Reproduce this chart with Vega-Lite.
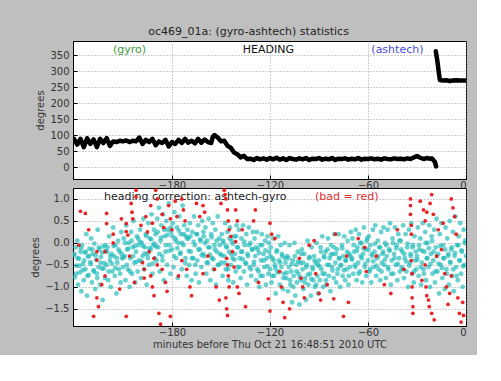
{
"$schema": "https://vega.github.io/schema/vega-lite/v6.json",
"background": "#bfbfbf",
"padding": {"left": 30, "top": 25, "right": 10, "bottom": 5},
"title": {"text": "oc469_01a: (gyro-ashtech) statistics", "font": "DejaVu Sans", "fontSize": 11, "fontWeight": "normal", "color": "#222", "offset": 4, "anchor": "middle"},
"config": {
  "font": "DejaVu Sans",
  "view": {"fill": "white", "stroke": "#000", "strokeWidth": 1},
  "axis": {"labelFont": "DejaVu Sans", "labelFontSize": 10, "labelColor": "#333", "labelOverlap": false, "titleFont": "DejaVu Sans", "titleFontSize": 10, "titleFontWeight": "normal", "titleColor": "#333", "domainColor": "#000", "tickColor": "#000", "tickSize": -4, "labelPadding": 8, "grid": true, "gridColor": "#888", "gridDash": [1, 2], "gridOpacity": 0.8}
},
"resolve": {"scale": {"color": "independent"}},
"datasets": {
"heading": [
{"seg":1,"t":-240,"h":88},{"seg":1,"t":-238,"h":70},{"seg":1,"t":-236,"h":88},{"seg":1,"t":-234,"h":62},{"seg":1,"t":-232,"h":90},{"seg":1,"t":-230,"h":72},{"seg":1,"t":-228,"h":86},{"seg":1,"t":-226,"h":62},{"seg":1,"t":-224,"h":88},{"seg":1,"t":-222,"h":75},{"seg":1,"t":-220,"h":90},{"seg":1,"t":-218,"h":66},{"seg":1,"t":-216,"h":80},{"seg":1,"t":-214,"h":78},{"seg":1,"t":-212,"h":82},{"seg":1,"t":-210,"h":80},{"seg":1,"t":-208,"h":83},{"seg":1,"t":-206,"h":78},{"seg":1,"t":-204,"h":82},{"seg":1,"t":-202,"h":80},{"seg":1,"t":-200,"h":92},{"seg":1,"t":-198,"h":72},{"seg":1,"t":-196,"h":85},{"seg":1,"t":-194,"h":78},{"seg":1,"t":-192,"h":88},{"seg":1,"t":-190,"h":68},{"seg":1,"t":-188,"h":80},{"seg":1,"t":-186,"h":75},{"seg":1,"t":-184,"h":85},{"seg":1,"t":-182,"h":64},{"seg":1,"t":-180,"h":78},{"seg":1,"t":-178,"h":72},{"seg":1,"t":-176,"h":85},{"seg":1,"t":-174,"h":75},{"seg":1,"t":-172,"h":88},{"seg":1,"t":-170,"h":76},{"seg":1,"t":-168,"h":82},{"seg":1,"t":-166,"h":74},{"seg":1,"t":-164,"h":88},{"seg":1,"t":-162,"h":76},{"seg":1,"t":-160,"h":86},{"seg":1,"t":-158,"h":78},{"seg":1,"t":-156,"h":75},{"seg":1,"t":-155,"h":95},{"seg":1,"t":-154,"h":100},{"seg":1,"t":-152,"h":92},{"seg":1,"t":-150,"h":80},{"seg":1,"t":-148,"h":82},{"seg":1,"t":-146,"h":66},{"seg":1,"t":-144,"h":60},{"seg":1,"t":-142,"h":45},{"seg":1,"t":-140,"h":40},{"seg":1,"t":-138,"h":30},{"seg":1,"t":-136,"h":35},{"seg":1,"t":-134,"h":25},{"seg":1,"t":-132,"h":26},{"seg":1,"t":-130,"h":22},{"seg":1,"t":-128,"h":28},{"seg":1,"t":-126,"h":24},{"seg":1,"t":-124,"h":27},{"seg":1,"t":-122,"h":23},{"seg":1,"t":-120,"h":28},{"seg":1,"t":-118,"h":24},{"seg":1,"t":-116,"h":29},{"seg":1,"t":-114,"h":23},{"seg":1,"t":-112,"h":27},{"seg":1,"t":-110,"h":22},{"seg":1,"t":-108,"h":28},{"seg":1,"t":-106,"h":25},{"seg":1,"t":-104,"h":23},{"seg":1,"t":-102,"h":27},{"seg":1,"t":-100,"h":24},{"seg":1,"t":-98,"h":28},{"seg":1,"t":-96,"h":22},{"seg":1,"t":-94,"h":26},{"seg":1,"t":-92,"h":25},{"seg":1,"t":-90,"h":28},{"seg":1,"t":-88,"h":23},{"seg":1,"t":-86,"h":26},{"seg":1,"t":-84,"h":24},{"seg":1,"t":-82,"h":28},{"seg":1,"t":-80,"h":22},{"seg":1,"t":-78,"h":26},{"seg":1,"t":-76,"h":25},{"seg":1,"t":-74,"h":27},{"seg":1,"t":-72,"h":23},{"seg":1,"t":-70,"h":26},{"seg":1,"t":-68,"h":24},{"seg":1,"t":-66,"h":28},{"seg":1,"t":-64,"h":23},{"seg":1,"t":-62,"h":26},{"seg":1,"t":-60,"h":25},{"seg":1,"t":-58,"h":27},{"seg":1,"t":-56,"h":24},{"seg":1,"t":-54,"h":26},{"seg":1,"t":-52,"h":23},{"seg":1,"t":-50,"h":27},{"seg":1,"t":-48,"h":25},{"seg":1,"t":-46,"h":24},{"seg":1,"t":-44,"h":27},{"seg":1,"t":-42,"h":25},{"seg":1,"t":-40,"h":26},{"seg":1,"t":-38,"h":24},{"seg":1,"t":-36,"h":27},{"seg":1,"t":-34,"h":25},{"seg":1,"t":-32,"h":30},{"seg":1,"t":-30,"h":34},{"seg":1,"t":-28,"h":29},{"seg":1,"t":-26,"h":25},{"seg":1,"t":-24,"h":28},{"seg":1,"t":-22,"h":26},{"seg":1,"t":-21,"h":27},{"seg":1,"t":-20,"h":22},{"seg":1,"t":-19,"h":15},{"seg":1,"t":-18.3,"h":2},
{"seg":2,"t":-18.5,"h":362},{"seg":2,"t":-17.5,"h":330},{"seg":2,"t":-16.5,"h":290},{"seg":2,"t":-16,"h":272},{"seg":2,"t":-14,"h":270},{"seg":2,"t":-12,"h":271},{"seg":2,"t":-10,"h":269},{"seg":2,"t":-8,"h":270},{"seg":2,"t":-6,"h":271},{"seg":2,"t":-4,"h":270},{"seg":2,"t":-2,"h":270},{"seg":2,"t":0,"h":270}
],
"toplabels": [
{"label":"(gyro)","t":-206,"h":366},{"label":"HEADING","t":-121,"h":366},{"label":"(ashtech)","t":-42,"h":366}
],
"botlabels": [
{"label":"heading correction: ashtech-gyro","t":-221.6,"y":1.05},{"label":"(bad = red)","t":-92.4,"y":1.05}
],
"good": [
{"t":-240,"y":-0.28},{"t":-239.5,"y":-0.78},{"t":-239,"y":-0.1},{"t":-238.5,"y":-0.52},{"t":-238,"y":0.05},{"t":-237.5,"y":-0.95},{"t":-237,"y":-0.36},{"t":-236.5,"y":-0.67},{"t":-236,"y":-0.2},{"t":-235.5,"y":-1.1},{"t":-235,"y":-0.05},{"t":-234.5,"y":-0.48},{"t":-234,"y":-0.85},{"t":-233.5,"y":-0.22},{"t":-233,"y":-0.6},{"t":-232.5,"y":0.2},{"t":-232,"y":-1.2},{"t":-231.5,"y":-0.31},{"t":-231,"y":-0.73},{"t":-230.5,"y":-0.13},
{"t":-230,"y":-0.44},{"t":-229.5,"y":0.1},{"t":-229,"y":-0.9},{"t":-228.5,"y":-0.25},{"t":-228,"y":-0.62},{"t":-227.5,"y":-0.02},{"t":-227,"y":-1.05},{"t":-226.5,"y":-0.38},{"t":-226,"y":-0.7},{"t":-225.5,"y":0.3},{"t":-225,"y":-0.55},{"t":-224.5,"y":-0.15},{"t":-224,"y":-0.95},{"t":-223.5,"y":-0.32},{"t":-223,"y":-0.58},{"t":-222.5,"y":-1.3},{"t":-222,"y":-0.08},{"t":-221.5,"y":-0.46},{"t":-221,"y":-0.8},{"t":-220.5,"y":-0.18},
{"t":-220,"y":-0.5},{"t":-219.5,"y":-0.1},{"t":-219,"y":-0.85},{"t":-218.5,"y":0.15},{"t":-218,"y":-0.4},{"t":-217.5,"y":-1.0},{"t":-217,"y":-0.25},{"t":-216.5,"y":-0.65},{"t":-216,"y":0.35},{"t":-215.5,"y":-0.3},{"t":-215,"y":-0.75},{"t":-214.5,"y":-0.05},{"t":-214,"y":-1.15},{"t":-213.5,"y":-0.45},{"t":-213,"y":0.05},{"t":-212.5,"y":-0.6},{"t":-212,"y":-0.2},{"t":-211.5,"y":-0.9},{"t":-211,"y":0.25},{"t":-210.5,"y":-0.35},
{"t":-210,"y":-0.55},{"t":-209.5,"y":0.1},{"t":-209,"y":-0.3},{"t":-208.5,"y":-0.85},{"t":-208,"y":0.4},{"t":-207.5,"y":-0.15},{"t":-207,"y":-0.6},{"t":-206.5,"y":0.0},{"t":-206,"y":-1.0},{"t":-205.5,"y":-0.35},{"t":-205,"y":0.25},{"t":-204.5,"y":-0.7},{"t":-204,"y":-0.1},{"t":-203.5,"y":0.5},{"t":-203,"y":-0.45},{"t":-202.5,"y":-0.9},{"t":-202,"y":-0.2},{"t":-201.5,"y":0.15},{"t":-201,"y":-0.65},{"t":-200.5,"y":-0.05},
{"t":-200,"y":-0.4},{"t":-199.5,"y":0.3},{"t":-199,"y":-0.8},{"t":-198.5,"y":0.0},{"t":-198,"y":-0.3},{"t":-197.5,"y":0.55},{"t":-197,"y":-0.6},{"t":-196.5,"y":-0.1},{"t":-196,"y":0.2},{"t":-195.5,"y":-0.95},{"t":-195,"y":-0.25},{"t":-194.5,"y":0.45},{"t":-194,"y":-0.5},{"t":-193.5,"y":0.1},{"t":-193,"y":-0.15},{"t":-192.5,"y":0.65},{"t":-192,"y":-0.7},{"t":-191.5,"y":-0.05},{"t":-191,"y":0.3},{"t":-190.5,"y":-0.35},
{"t":-190,"y":0.2},{"t":-189.5,"y":-0.4},{"t":-189,"y":0.55},{"t":-188.5,"y":-0.1},{"t":-188,"y":0.8},{"t":-187.5,"y":-0.65},{"t":-187,"y":0.05},{"t":-186.5,"y":0.4},{"t":-186,"y":-0.3},{"t":-185.5,"y":0.65},{"t":-185,"y":-0.85},{"t":-184.5,"y":0.15},{"t":-184,"y":-0.2},{"t":-183.5,"y":0.5},{"t":-183,"y":-0.5},{"t":-182.5,"y":0.3},{"t":-182,"y":0.9},{"t":-181.5,"y":-0.05},{"t":-181,"y":-0.7},{"t":-180.5,"y":0.25},
{"t":-180,"y":-0.15},{"t":-179.5,"y":0.45},{"t":-179,"y":-0.55},{"t":-178.5,"y":0.7},{"t":-178,"y":0.1},{"t":-177.5,"y":-0.35},{"t":-177,"y":0.35},{"t":-176.5,"y":-0.8},{"t":-176,"y":0.0},{"t":-175.5,"y":0.6},{"t":-175,"y":-0.25},{"t":-174.5,"y":0.2},{"t":-174,"y":-0.6},{"t":-173.5,"y":0.85},{"t":-173,"y":-0.05},{"t":-172.5,"y":0.4},{"t":-172,"y":-0.45},{"t":-171.5,"y":0.15},{"t":-171,"y":-0.75},{"t":-170.5,"y":0.3},
{"t":-170,"y":0.1},{"t":-169.5,"y":-0.5},{"t":-169,"y":0.45},{"t":-168.5,"y":-0.2},{"t":-168,"y":-0.85},{"t":-167.5,"y":0.25},{"t":-167,"y":-0.35},{"t":-166.5,"y":0.6},{"t":-166,"y":-0.05},{"t":-165.5,"y":-0.7},{"t":-165,"y":0.2},{"t":-164.5,"y":-0.4},{"t":-164,"y":0.4},{"t":-163.5,"y":-0.9},{"t":-163,"y":-0.15},{"t":-162.5,"y":0.05},{"t":-162,"y":-0.55},{"t":-161.5,"y":0.5},{"t":-161,"y":-0.25},{"t":-160.5,"y":0.15},
{"t":-160,"y":-0.3},{"t":-159.5,"y":0.35},{"t":-159,"y":-0.7},{"t":-158.5,"y":0.05},{"t":-158,"y":-0.45},{"t":-157.5,"y":0.55},{"t":-157,"y":-0.1},{"t":-156.5,"y":-0.85},{"t":-156,"y":0.2},{"t":-155.5,"y":-0.35},{"t":-155,"y":0.45},{"t":-154.5,"y":-0.6},{"t":-154,"y":-0.05},{"t":-153.5,"y":0.3},{"t":-153,"y":-0.95},{"t":-152.5,"y":-0.2},{"t":-152,"y":0.6},{"t":-151.5,"y":-0.5},{"t":-151,"y":0.1},{"t":-150.5,"y":-0.25},
{"t":-150,"y":-0.45},{"t":-149.5,"y":0.2},{"t":-149,"y":-0.75},{"t":-148.5,"y":0.0},{"t":-148,"y":-0.3},{"t":-147.5,"y":0.45},{"t":-147,"y":-0.6},{"t":-146.5,"y":-0.1},{"t":-146,"y":0.25},{"t":-145.5,"y":-0.85},{"t":-145,"y":-0.2},{"t":-144.5,"y":0.35},{"t":-144,"y":-0.5},{"t":-143.5,"y":0.05},{"t":-143,"y":-0.35},{"t":-142.5,"y":-0.9},{"t":-142,"y":0.15},{"t":-141.5,"y":-0.25},{"t":-141,"y":-0.65},{"t":-140.5,"y":0.4},
{"t":-140,"y":-0.1},{"t":-139.5,"y":-0.55},{"t":-139,"y":0.3},{"t":-138.5,"y":-0.35},{"t":-138,"y":-0.8},{"t":-137.5,"y":0.1},{"t":-137,"y":-0.2},{"t":-136.5,"y":0.4},{"t":-136,"y":-0.65},{"t":-135.5,"y":-0.05},{"t":-135,"y":-0.45},{"t":-134.5,"y":0.2},{"t":-134,"y":-0.95},{"t":-133.5,"y":-0.3},{"t":-133,"y":0.35},{"t":-132.5,"y":-0.55},{"t":-132,"y":0.0},{"t":-131.5,"y":-0.75},{"t":-131,"y":-0.15},{"t":-130.5,"y":0.25},
{"t":-130,"y":-0.5},{"t":-129.5,"y":0.1},{"t":-129,"y":-0.3},{"t":-128.5,"y":-0.85},{"t":-128,"y":0.25},{"t":-127.5,"y":-0.15},{"t":-127,"y":-0.65},{"t":-126.5,"y":-1.0},{"t":-126,"y":-0.05},{"t":-125.5,"y":-0.4},{"t":-125,"y":0.2},{"t":-124.5,"y":-0.75},{"t":-124,"y":-0.25},{"t":-123.5,"y":-0.55},{"t":-123,"y":0.05},{"t":-122.5,"y":-0.95},{"t":-122,"y":-0.35},{"t":-121.5,"y":0.15},{"t":-121,"y":-0.7},{"t":-120.5,"y":-0.2},
{"t":-120,"y":-0.6},{"t":-119.5,"y":-0.1},{"t":-119,"y":-0.9},{"t":-118.5,"y":-0.35},{"t":-118,"y":0.1},{"t":-117.5,"y":-0.75},{"t":-117,"y":-0.5},{"t":-116.5,"y":-1.15},{"t":-116,"y":-0.2},{"t":-115.5,"y":-0.65},{"t":-115,"y":0.15},{"t":-114.5,"y":-0.4},{"t":-114,"y":-0.95},{"t":-113.5,"y":-0.05},{"t":-113,"y":-0.55},{"t":-112.5,"y":-0.3},{"t":-112,"y":-1.05},{"t":-111.5,"y":-0.7},{"t":-111,"y":0.0},{"t":-110.5,"y":-0.45},
{"t":-110,"y":-0.8},{"t":-109.5,"y":-0.3},{"t":-109,"y":-1.1},{"t":-108.5,"y":-0.55},{"t":-108,"y":-0.05},{"t":-107.5,"y":-0.95},{"t":-107,"y":-0.65},{"t":-106.5,"y":-1.35},{"t":-106,"y":-0.4},{"t":-105.5,"y":-0.75},{"t":-105,"y":0.0},{"t":-104.5,"y":-1.2},{"t":-104,"y":-0.5},{"t":-103.5,"y":-0.9},{"t":-103,"y":-0.2},{"t":-102.5,"y":-0.7},{"t":-102,"y":-1.4},{"t":-101.5,"y":-0.45},{"t":-101,"y":-0.85},{"t":-100.5,"y":-0.15},
{"t":-100,"y":-0.6},{"t":-99.5,"y":-1.05},{"t":-99,"y":-0.25},{"t":-98.5,"y":-0.8},{"t":-98,"y":-1.3},{"t":-97.5,"y":-0.5},{"t":-97,"y":0.05},{"t":-96.5,"y":-0.95},{"t":-96,"y":-0.35},{"t":-95.5,"y":-0.7},{"t":-95,"y":-1.2},{"t":-94.5,"y":-0.1},{"t":-94,"y":-0.55},{"t":-93.5,"y":-0.85},{"t":-93,"y":-0.3},{"t":-92.5,"y":-1.0},{"t":-92,"y":-0.45},{"t":-91.5,"y":0.0},{"t":-91,"y":-0.75},{"t":-90.5,"y":-1.15},
{"t":-90,"y":-0.4},{"t":-89.5,"y":-0.85},{"t":-89,"y":-0.1},{"t":-88.5,"y":-0.6},{"t":-88,"y":0.15},{"t":-87.5,"y":-1.0},{"t":-87,"y":-0.3},{"t":-86.5,"y":-0.7},{"t":-86,"y":-0.2},{"t":-85.5,"y":-0.95},{"t":-85,"y":-0.5},{"t":-84.5,"y":0.1},{"t":-84,"y":-0.75},{"t":-83.5,"y":-0.35},{"t":-83,"y":-1.1},{"t":-82.5,"y":-0.05},{"t":-82,"y":-0.55},{"t":-81.5,"y":-0.25},{"t":-81,"y":-0.8},{"t":-80.5,"y":0.2},
{"t":-80,"y":-0.45},{"t":-79.5,"y":-0.9},{"t":-79,"y":-0.15},{"t":-78.5,"y":-0.6},{"t":-78,"y":0.2},{"t":-77.5,"y":-0.35},{"t":-77,"y":-1.0},{"t":-76.5,"y":-0.5},{"t":-76,"y":-0.05},{"t":-75.5,"y":-0.75},{"t":-75,"y":-0.3},{"t":-74.5,"y":0.15},{"t":-74,"y":-0.85},{"t":-73.5,"y":-0.4},{"t":-73,"y":-0.6},{"t":-72.5,"y":0.05},{"t":-72,"y":-0.95},{"t":-71.5,"y":-0.25},{"t":-71,"y":-0.55},{"t":-70.5,"y":0.25},
{"t":-70,"y":-0.35},{"t":-69.5,"y":0.1},{"t":-69,"y":-0.7},{"t":-68.5,"y":-0.2},{"t":-68,"y":-0.5},{"t":-67.5,"y":0.3},{"t":-67,"y":-0.85},{"t":-66.5,"y":-0.1},{"t":-66,"y":-0.45},{"t":-65.5,"y":0.2},{"t":-65,"y":-0.65},{"t":-64.5,"y":-0.3},{"t":-64,"y":0.0},{"t":-63.5,"y":-0.9},{"t":-63,"y":-0.25},{"t":-62.5,"y":0.35},{"t":-62,"y":-0.55},{"t":-61.5,"y":-0.15},{"t":-61,"y":-0.75},{"t":-60.5,"y":0.1},
{"t":-60,"y":-0.4},{"t":-59.5,"y":0.15},{"t":-59,"y":-0.65},{"t":-58.5,"y":-0.05},{"t":-58,"y":-0.9},{"t":-57.5,"y":-0.3},{"t":-57,"y":0.3},{"t":-56.5,"y":-0.55},{"t":-56,"y":-0.2},{"t":-55.5,"y":0.4},{"t":-55,"y":-0.75},{"t":-54.5,"y":-0.35},{"t":-54,"y":0.05},{"t":-53.5,"y":-0.6},{"t":-53,"y":-0.1},{"t":-52.5,"y":-0.85},{"t":-52,"y":0.25},{"t":-51.5,"y":-0.45},{"t":-51,"y":-0.25},{"t":-50.5,"y":0.35},
{"t":-50,"y":-0.5},{"t":-49.5,"y":0.0},{"t":-49,"y":-0.8},{"t":-48.5,"y":-0.3},{"t":-48,"y":0.3},{"t":-47.5,"y":-0.6},{"t":-47,"y":-0.15},{"t":-46.5,"y":0.45},{"t":-46,"y":-0.95},{"t":-45.5,"y":-0.4},{"t":-45,"y":0.1},{"t":-44.5,"y":-0.7},{"t":-44,"y":-0.25},{"t":-43.5,"y":0.35},{"t":-43,"y":-0.5},{"t":-42.5,"y":-0.05},{"t":-42,"y":-0.85},{"t":-41.5,"y":0.2},{"t":-41,"y":-0.35},{"t":-40.5,"y":-0.65},
{"t":-40,"y":0.05},{"t":-39.5,"y":-0.55},{"t":-39,"y":-0.2},{"t":-38.5,"y":0.4},{"t":-38,"y":-0.8},{"t":-37.5,"y":-0.35},{"t":-37,"y":0.2},{"t":-36.5,"y":-0.65},{"t":-36,"y":-0.1},{"t":-35.5,"y":-1.0},{"t":-35,"y":0.3},{"t":-34.5,"y":-0.45},{"t":-34,"y":-0.25},{"t":-33.5,"y":0.45},{"t":-33,"y":-0.7},{"t":-32.5,"y":-0.05},{"t":-32,"y":-0.9},{"t":-31.5,"y":0.15},{"t":-31,"y":-0.4},{"t":-30.5,"y":-0.6},
{"t":-30,"y":-0.3},{"t":-29.5,"y":0.35},{"t":-29,"y":-0.75},{"t":-28.5,"y":-0.15},{"t":-28,"y":0.1},{"t":-27.5,"y":-0.95},{"t":-27,"y":-0.45},{"t":-26.5,"y":0.45},{"t":-26,"y":-0.6},{"t":-25.5,"y":-0.2},{"t":-25,"y":0.25},{"t":-24.5,"y":-0.85},{"t":-24,"y":-0.35},{"t":-23.5,"y":0.0},{"t":-23,"y":-0.55},{"t":-22.5,"y":0.4},{"t":-22,"y":-1.0},{"t":-21.5,"y":-0.25},{"t":-21,"y":0.15},{"t":-20.5,"y":-0.7},
{"t":-20,"y":-0.4},{"t":-19.5,"y":0.3},{"t":-19,"y":-0.9},{"t":-18.5,"y":-0.1},{"t":-18,"y":0.55},{"t":-17.5,"y":-0.65},{"t":-17,"y":-0.25},{"t":-16.5,"y":-1.15},{"t":-16,"y":0.2},{"t":-15.5,"y":-0.5},{"t":-15,"y":0.45},{"t":-14.5,"y":-0.8},{"t":-14,"y":-0.05},{"t":-13.5,"y":-0.35},{"t":-13,"y":-1.05},{"t":-12.5,"y":0.35},{"t":-12,"y":-0.6},{"t":-11.5,"y":0.1},{"t":-11,"y":-0.3},{"t":-10.5,"y":-0.95},
{"t":-10,"y":0.5},{"t":-9.5,"y":-0.45},{"t":-9,"y":-0.15},{"t":-8.5,"y":-0.75},{"t":-8,"y":0.25},{"t":-7.5,"y":-1.1},{"t":-7,"y":-0.3},{"t":-6.5,"y":0.6},{"t":-6,"y":-0.55},{"t":-5.5,"y":-0.05},{"t":-5,"y":-0.85},{"t":-4.5,"y":0.15},{"t":-4,"y":-0.4},{"t":-3.5,"y":0.45},{"t":-3,"y":-0.7},{"t":-2.5,"y":-0.2},{"t":-2,"y":-1.0},{"t":-1.5,"y":0.3},{"t":-1,"y":-0.5},{"t":-0.5,"y":0.05},{"t":0,"y":-0.3},
{"t":-239.75,"y":-0.25},{"t":-238.75,"y":-0.7},{"t":-237.75,"y":-0.35},{"t":-236.75,"y":-0.52},{"t":-235.75,"y":-0.12},{"t":-234.75,"y":-0.62},{"t":-233.75,"y":-0.4},{"t":-232.75,"y":-0.2},{"t":-231.75,"y":-0.75},{"t":-230.75,"y":-0.3},
{"t":-229.75,"y":-0.48},{"t":-228.75,"y":-0.15},{"t":-227.75,"y":-0.65},{"t":-226.75,"y":-0.28},{"t":-225.75,"y":-0.8},{"t":-224.75,"y":-0.1},{"t":-223.75,"y":-0.45},{"t":-222.75,"y":-0.22},{"t":-221.75,"y":-0.58},{"t":-220.75,"y":-0.05},
{"t":-219.75,"y":-0.2},{"t":-218.75,"y":-0.65},{"t":-217.75,"y":-0.3},{"t":-216.75,"y":-0.47},{"t":-215.75,"y":-0.07},{"t":-214.75,"y":-0.57},{"t":-213.75,"y":-0.35},{"t":-212.75,"y":-0.15},{"t":-211.75,"y":-0.7},{"t":-210.75,"y":-0.25},
{"t":-209.75,"y":-0.33},{"t":-208.75,"y":0.0},{"t":-207.75,"y":-0.5},{"t":-206.75,"y":-0.13},{"t":-205.75,"y":-0.65},{"t":-204.75,"y":0.05},{"t":-203.75,"y":-0.3},{"t":-202.75,"y":-0.07},{"t":-201.75,"y":-0.43},{"t":-200.75,"y":0.1},
{"t":-199.75,"y":0.03},{"t":-198.75,"y":-0.42},{"t":-197.75,"y":-0.07},{"t":-196.75,"y":-0.24},{"t":-195.75,"y":0.16},{"t":-194.75,"y":-0.34},{"t":-193.75,"y":-0.12},{"t":-192.75,"y":0.08},{"t":-191.75,"y":-0.47},{"t":-190.75,"y":-0.02},
{"t":-189.75,"y":-0.08},{"t":-188.75,"y":0.25},{"t":-187.75,"y":-0.25},{"t":-186.75,"y":0.12},{"t":-185.75,"y":-0.4},{"t":-184.75,"y":0.3},{"t":-183.75,"y":-0.05},{"t":-182.75,"y":0.18},{"t":-181.75,"y":-0.18},{"t":-180.75,"y":0.35},
{"t":-179.75,"y":0.15},{"t":-178.75,"y":-0.3},{"t":-177.75,"y":0.05},{"t":-176.75,"y":-0.12},{"t":-175.75,"y":0.28},{"t":-174.75,"y":-0.22},{"t":-173.75,"y":0.0},{"t":-172.75,"y":0.2},{"t":-171.75,"y":-0.35},{"t":-170.75,"y":0.1},
{"t":-169.75,"y":-0.18},{"t":-168.75,"y":0.15},{"t":-167.75,"y":-0.35},{"t":-166.75,"y":0.02},{"t":-165.75,"y":-0.5},{"t":-164.75,"y":0.2},{"t":-163.75,"y":-0.15},{"t":-162.75,"y":0.08},{"t":-161.75,"y":-0.28},{"t":-160.75,"y":0.25},
{"t":-159.75,"y":0.0},{"t":-158.75,"y":-0.45},{"t":-157.75,"y":-0.1},{"t":-156.75,"y":-0.27},{"t":-155.75,"y":0.13},{"t":-154.75,"y":-0.37},{"t":-153.75,"y":-0.15},{"t":-152.75,"y":0.05},{"t":-151.75,"y":-0.5},{"t":-150.75,"y":-0.05},
{"t":-149.75,"y":-0.28},{"t":-148.75,"y":0.05},{"t":-147.75,"y":-0.45},{"t":-146.75,"y":-0.08},{"t":-145.75,"y":-0.6},{"t":-144.75,"y":0.1},{"t":-143.75,"y":-0.25},{"t":-142.75,"y":-0.02},{"t":-141.75,"y":-0.38},{"t":-140.75,"y":0.15},
{"t":-139.75,"y":-0.1},{"t":-138.75,"y":-0.55},{"t":-137.75,"y":-0.2},{"t":-136.75,"y":-0.37},{"t":-135.75,"y":0.03},{"t":-134.75,"y":-0.47},{"t":-133.75,"y":-0.25},{"t":-132.75,"y":-0.05},{"t":-131.75,"y":-0.6},{"t":-130.75,"y":-0.15},
{"t":-129.75,"y":-0.43},{"t":-128.75,"y":-0.1},{"t":-127.75,"y":-0.6},{"t":-126.75,"y":-0.23},{"t":-125.75,"y":-0.75},{"t":-124.75,"y":-0.05},{"t":-123.75,"y":-0.4},{"t":-122.75,"y":-0.17},{"t":-121.75,"y":-0.53},{"t":-120.75,"y":0.0},
{"t":-119.75,"y":-0.3},{"t":-118.75,"y":-0.75},{"t":-117.75,"y":-0.4},{"t":-116.75,"y":-0.57},{"t":-115.75,"y":-0.17},{"t":-114.75,"y":-0.67},{"t":-113.75,"y":-0.45},{"t":-112.75,"y":-0.25},{"t":-111.75,"y":-0.8},{"t":-110.75,"y":-0.35},
{"t":-109.75,"y":-0.68},{"t":-108.75,"y":-0.35},{"t":-107.75,"y":-0.85},{"t":-106.75,"y":-0.48},{"t":-105.75,"y":-1.0},{"t":-104.75,"y":-0.3},{"t":-103.75,"y":-0.65},{"t":-102.75,"y":-0.42},{"t":-101.75,"y":-0.78},{"t":-100.75,"y":-0.25},
{"t":-99.75,"y":-0.45},{"t":-98.75,"y":-0.9},{"t":-97.75,"y":-0.55},{"t":-96.75,"y":-0.72},{"t":-95.75,"y":-0.32},{"t":-94.75,"y":-0.82},{"t":-93.75,"y":-0.6},{"t":-92.75,"y":-0.4},{"t":-91.75,"y":-0.95},{"t":-90.75,"y":-0.5},
{"t":-89.75,"y":-0.53},{"t":-88.75,"y":-0.2},{"t":-87.75,"y":-0.7},{"t":-86.75,"y":-0.33},{"t":-85.75,"y":-0.85},{"t":-84.75,"y":-0.15},{"t":-83.75,"y":-0.5},{"t":-82.75,"y":-0.27},{"t":-81.75,"y":-0.63},{"t":-80.75,"y":-0.1},
{"t":-79.75,"y":-0.25},{"t":-78.75,"y":-0.7},{"t":-77.75,"y":-0.35},{"t":-76.75,"y":-0.52},{"t":-75.75,"y":-0.12},{"t":-74.75,"y":-0.62},{"t":-73.75,"y":-0.4},{"t":-72.75,"y":-0.2},{"t":-71.75,"y":-0.75},{"t":-70.75,"y":-0.3},
{"t":-69.75,"y":-0.38},{"t":-68.75,"y":-0.05},{"t":-67.75,"y":-0.55},{"t":-66.75,"y":-0.18},{"t":-65.75,"y":-0.7},{"t":-64.75,"y":0.0},{"t":-63.75,"y":-0.35},{"t":-62.75,"y":-0.12},{"t":-61.75,"y":-0.48},{"t":-60.75,"y":0.05},
{"t":-59.75,"y":-0.15},{"t":-58.75,"y":-0.6},{"t":-57.75,"y":-0.25},{"t":-56.75,"y":-0.42},{"t":-55.75,"y":-0.02},{"t":-54.75,"y":-0.52},{"t":-53.75,"y":-0.3},{"t":-52.75,"y":-0.1},{"t":-51.75,"y":-0.65},{"t":-50.75,"y":-0.2},
{"t":-49.75,"y":-0.38},{"t":-48.75,"y":-0.05},{"t":-47.75,"y":-0.55},{"t":-46.75,"y":-0.18},{"t":-45.75,"y":-0.7},{"t":-44.75,"y":0.0},{"t":-43.75,"y":-0.35},{"t":-42.75,"y":-0.12},{"t":-41.75,"y":-0.48},{"t":-40.75,"y":0.05},
{"t":-39.75,"y":-0.15},{"t":-38.75,"y":-0.6},{"t":-37.75,"y":-0.25},{"t":-36.75,"y":-0.42},{"t":-35.75,"y":-0.02},{"t":-34.75,"y":-0.52},{"t":-33.75,"y":-0.3},{"t":-32.75,"y":-0.1},{"t":-31.75,"y":-0.65},{"t":-30.75,"y":-0.2},
{"t":-29.75,"y":-0.38},{"t":-28.75,"y":-0.05},{"t":-27.75,"y":-0.55},{"t":-26.75,"y":-0.18},{"t":-25.75,"y":-0.7},{"t":-24.75,"y":0.0},{"t":-23.75,"y":-0.35},{"t":-22.75,"y":-0.12},{"t":-21.75,"y":-0.48},{"t":-20.75,"y":0.05},
{"t":-19.75,"y":-0.2},{"t":-18.75,"y":-0.65},{"t":-17.75,"y":-0.3},{"t":-16.75,"y":-0.47},{"t":-15.75,"y":-0.07},{"t":-14.75,"y":-0.57},{"t":-13.75,"y":-0.35},{"t":-12.75,"y":-0.15},{"t":-11.75,"y":-0.7},{"t":-10.75,"y":-0.25},
{"t":-9.75,"y":-0.43},{"t":-8.75,"y":-0.1},{"t":-7.75,"y":-0.6},{"t":-6.75,"y":-0.23},{"t":-5.75,"y":-0.75},{"t":-4.75,"y":-0.05},{"t":-3.75,"y":-0.4},{"t":-2.75,"y":-0.17},{"t":-1.75,"y":-0.53},{"t":-0.75,"y":0.0}
],
"bad": [
{"t":-233,"y":0.67},{"t":-236,"y":0.72},{"t":-226,"y":-0.2},{"t":-226,"y":-0.39},{"t":-225,"y":-1.45},{"t":-228,"y":-1.67},{"t":-220,"y":0.67},{"t":-220,"y":0.44},{"t":-221,"y":-0.2},{"t":-221,"y":-0.75},{"t":-226,"y":-1.25},{"t":-216,"y":0.2},{"t":-216,"y":0.0},{"t":-208,"y":0.44},{"t":-208,"y":0.26},{"t":-207,"y":0.18},{"t":-208,"y":-1.67},{"t":-205,"y":0.9},{"t":-204.5,"y":0.7},{"t":-204,"y":0.55},{"t":-202,"y":1.2},{"t":-202,"y":1.05},{"t":-198,"y":-0.45},{"t":-197,"y":-0.6},{"t":-197,"y":-0.8},{"t":-193,"y":-0.75},{"t":-192,"y":-1.0},{"t":-191,"y":-1.2},{"t":-194,"y":-0.2},{"t":-191,"y":-0.35},{"t":-189,"y":-0.5},{"t":-190,"y":1.2},{"t":-189,"y":1.0},{"t":-188,"y":-1.6},{"t":-187,"y":-1.85},{"t":-182,"y":0.85},{"t":-181,"y":0.55},{"t":-180,"y":0.3},{"t":-181,"y":-1.67},{"t":-174,"y":1.0},{"t":-173,"y":0.75},{"t":-172,"y":0.5},{"t":-174,"y":-0.4},{"t":-171,"y":-0.6},{"t":-169,"y":-1.0},{"t":-168,"y":-1.2},{"t":-161,"y":0.85},{"t":-160,"y":0.7},{"t":-161,"y":-0.7},{"t":-154,"y":-0.6},{"t":-153,"y":-1.0},{"t":-148,"y":1.2},{"t":-147.5,"y":1.1},{"t":-147,"y":1.0},{"t":-146,"y":0.75},{"t":-145.5,"y":0.5},{"t":-145,"y":0.3},{"t":-146.5,"y":-0.35},{"t":-146,"y":-0.5},{"t":-145.5,"y":-0.75},{"t":-145,"y":-1.0},{"t":-147,"y":-1.25},{"t":-146.5,"y":-1.5},{"t":-146,"y":-1.65},{"t":-141,"y":0.75},{"t":-140,"y":0.5},{"t":-141,"y":0.03},{"t":-140,"y":-1.0},{"t":-139,"y":-1.15},{"t":-129,"y":0.75},{"t":-130,"y":0.5},{"t":-121,"y":-1.27},{"t":-120,"y":-1.55},{"t":-120,"y":0.45},{"t":-119,"y":0.2},{"t":-114,"y":-0.65},{"t":-113,"y":-1.0},{"t":-112,"y":-1.35},{"t":-111,"y":-1.7},{"t":-102,"y":-0.35},{"t":-101,"y":-0.8},{"t":-100,"y":-1.0},{"t":-99,"y":-1.25},{"t":-93,"y":0.05},{"t":-92,"y":-0.7},{"t":-90,"y":-1.15},{"t":-89,"y":-1.3},{"t":-81,"y":-1.27},{"t":-80,"y":0.2},{"t":-75,"y":-1.67},{"t":-73,"y":-0.3},{"t":-72,"y":-1.35},{"t":-62,"y":-0.1},{"t":-61,"y":-0.65},{"t":-55,"y":-0.3},{"t":-46,"y":-1.15},{"t":-34,"y":1.0},{"t":-34,"y":0.85},{"t":-34,"y":0.65},{"t":-33.5,"y":0.4},{"t":-33.5,"y":0.2},{"t":-33.5,"y":-0.4},{"t":-33,"y":-0.7},{"t":-33,"y":-1.0},{"t":-33,"y":-1.25},{"t":-32.5,"y":-1.45},{"t":-32.5,"y":-1.6},{"t":-26,"y":0.75},{"t":-25,"y":0.5},{"t":-24,"y":0.7},{"t":-22,"y":0.9},{"t":-21,"y":1.1},{"t":-25,"y":-0.5},{"t":-24.5,"y":-1.0},{"t":-24,"y":-1.2},{"t":-23,"y":-1.3},{"t":-22.5,"y":-1.45},{"t":-21,"y":-1.6},{"t":-19.5,"y":-1.75},{"t":-17,"y":0.3},{"t":-15,"y":-0.15},{"t":-13,"y":-0.7},{"t":-12,"y":-1.0},{"t":-10,"y":-1.15},{"t":-9,"y":-0.75},{"t":-9,"y":1.0},{"t":-8,"y":0.8},{"t":-7,"y":0.6},{"t":-4,"y":-1.6},{"t":-3,"y":-1.8},{"t":-2,"y":-1.35},{"t":-1.5,"y":-1.65},
{"t":-199,"y":0.4},{"t":-196,"y":0.6},{"t":-195,"y":0.25},{"t":-193,"y":0.85},{"t":-192,"y":0.45},{"t":-186,"y":0.65},{"t":-185,"y":0.35},{"t":-184,"y":-0.9},{"t":-183,"y":-1.1},{"t":-186,"y":-0.6},{"t":-178,"y":0.95},{"t":-177,"y":0.6},{"t":-176,"y":-0.75},{"t":-165,"y":0.9},{"t":-163,"y":0.6},{"t":-158,"y":-0.3},{"t":-150,"y":0.9},{"t":-151,"y":-1.3},{"t":-144,"y":0.15},{"t":-143,"y":-0.2},{"t":-142,"y":-0.55},{"t":-137,"y":0.3},{"t":-135,"y":-1.45},{"t":-127,"y":-0.9},{"t":-117,"y":0.1},{"t":-108,"y":-1.5},{"t":-96,"y":-0.05},{"t":-85,"y":-0.95},{"t":-66,"y":0.1},{"t":-50,"y":-0.95},{"t":-42,"y":0.3},{"t":-38,"y":-0.6},{"t":-28,"y":0.95},{"t":-27,"y":-0.85},{"t":-20,"y":0.65},{"t":-18,"y":-0.3},{"t":-14,"y":0.45},{"t":-11,"y":-1.4},{"t":-6,"y":0.2},{"t":-5,"y":-1.25},{"t":-237,"y":-0.05},{"t":-231,"y":0.3},{"t":-223,"y":-0.95},{"t":-212,"y":-1.05},{"t":-211,"y":0.55},{"t":-206,"y":-0.3},{"t":-203,"y":-0.9}
]
},
"bounds": "flush",
"spacing": 9,
"vconcat": [
{
 "width": 393, "height": 138,
 "layer": [
  {"data": {"name": "heading"},
   "mark": {"type": "line", "color": "#000", "strokeWidth": 4.5, "strokeJoin": "round", "strokeCap": "round", "clip": true},
   "encoding": {
     "x": {"field": "t", "type": "quantitative", "scale": {"domain": [-240.6, 0], "nice": false, "zero": false}, "axis": {"values": [-180, -120, -60, 0], "tickCount": 20, "labelOverlap": false, "labelPadding": 5, "title": null}},
     "y": {"field": "h", "type": "quantitative", "scale": {"domain": [-37.5, 393.75], "nice": false, "zero": false}, "axis": {"values": [0, 50, 100, 150, 200, 250, 300, 350], "tickCount": 20, "labelOverlap": false, "title": "degrees"}},
     "detail": {"field": "seg", "type": "nominal"}
   }},
  {"data": {"name": "toplabels"},
   "mark": {"type": "text", "fontSize": 11, "baseline": "middle", "align": "center"},
   "encoding": {
     "x": {"field": "t", "type": "quantitative"},
     "y": {"field": "h", "type": "quantitative"},
     "text": {"field": "label"},
     "color": {"field": "label", "type": "nominal", "scale": {"domain": ["(gyro)", "HEADING", "(ashtech)"], "range": ["#3a9a3a", "#111111", "#4a4ad8"]}, "legend": null}
   }}
 ],
 "resolve": {"scale": {"color": "independent"}}
},
{
 "width": 393, "height": 138,
 "layer": [
  {"data": {"name": "good"},
   "mark": {"type": "circle", "color": "#1ab8b8", "size": 24, "opacity": 0.65, "clip": true},
   "encoding": {
     "x": {"field": "t", "type": "quantitative", "scale": {"domain": [-240.6, 0], "nice": false, "zero": false}, "axis": {"values": [-180, -120, -60, 0], "tickCount": 20, "labelOverlap": false, "labelPadding": 5, "titlePadding": 2, "title": "minutes before Thu Oct 21 16:48:51 2010 UTC"}},
     "y": {"field": "y", "type": "quantitative", "scale": {"domain": [-1.89, 1.25], "nice": false, "zero": false}, "axis": {"values": [-1.5, -1.0, -0.5, 0.0, 0.5, 1.0], "tickCount": 20, "labelOverlap": false, "format": ".1f", "title": "degrees"}}
   }},
  {"data": {"name": "botlabels"},
   "mark": {"type": "text", "fontSize": 11, "baseline": "middle", "align": "left"},
   "encoding": {
     "x": {"field": "t", "type": "quantitative"},
     "y": {"field": "y", "type": "quantitative"},
     "text": {"field": "label"},
     "color": {"field": "label", "type": "nominal", "scale": {"domain": ["heading correction: ashtech-gyro", "(bad = red)"], "range": ["#222222", "#e03030"]}, "legend": null}
   }},
  {"data": {"name": "bad"},
   "mark": {"type": "circle", "color": "#e81818", "size": 14, "opacity": 0.95, "clip": true},
   "encoding": {
     "x": {"field": "t", "type": "quantitative"},
     "y": {"field": "y", "type": "quantitative"}
   }}
 ],
 "resolve": {"scale": {"color": "independent"}}
}
]
}
